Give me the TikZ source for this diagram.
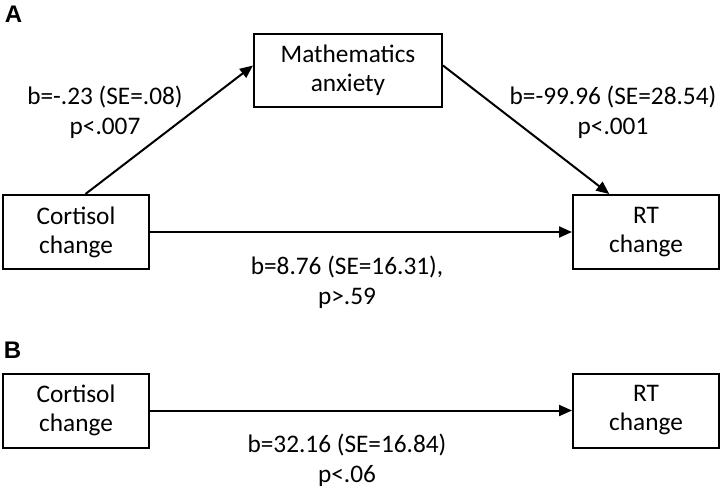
\documentclass[tikz,border=0pt]{standalone}
\usepackage{fontspec}
\setmainfont{Carlito}
\newfontfamily\panelfont{Liberation Sans}
\usetikzlibrary{
  positioning,
  arrows.meta
}
\tikzset{var/.style={
  draw, line width=2pt,
  minimum width=146pt,
  minimum height=74pt,
  inner sep=0pt,
  align=center,
  font=\fontsize{25.3}{29}\selectfont
}}
\tikzset{coef/.style={
  align=center,
  font=\fontsize{25.3}{30}\selectfont
}}
\tikzset{link/.style={
  line width=2pt,
  -{Triangle[length=13pt,width=11pt]}
}}
\tikzset{panel/.style={
  font=\panelfont\bfseries\fontsize{24}{24}\selectfont
}}

\begin{document}
\begin{tikzpicture}[x=1pt,y=-1pt]
  \useasboundingbox (0,0) rectangle (720,489);
  % panel A
  \node [panel] (labA) at (13.5,14) {A};
  \node [var] (cortA) at (76,232) {Cortisol\\change};
  \node [var, right=422pt of cortA] (rtA) {RT\\change};
  \node [var, minimum width=188pt, minimum height=73pt] (math) at (348,70.5) {Mathematics\\anxiety};
  \draw [link] (cortA.76) -- (math.177);
  \draw [link] (math.3) -- (rtA.134);
  \draw [link] (cortA) -- (rtA);
  \node [coef] (coefa) at (105,112) {b=-.23 (SE=.08)\\p<.007};
  \node [coef] (coefb) at (613,112) {b=-99.96 (SE=28.54)\\p<.001};
  \node [coef] (coefc) at (347,282) {b=8.76 (SE=16.31),\\p>.59};
  % panel B
  \node [panel] (labB) at (12.5,350) {B};
  \node [var] (cortB) at (76,410.5) {Cortisol\\change};
  \node [var, right=422pt of cortB] (rtB) {RT\\change};
  \draw [link] (cortB) -- (rtB);
  \node [coef] (coeftot) at (347,460) {b=32.16 (SE=16.84)\\p<.06};
\end{tikzpicture}
\end{document}
